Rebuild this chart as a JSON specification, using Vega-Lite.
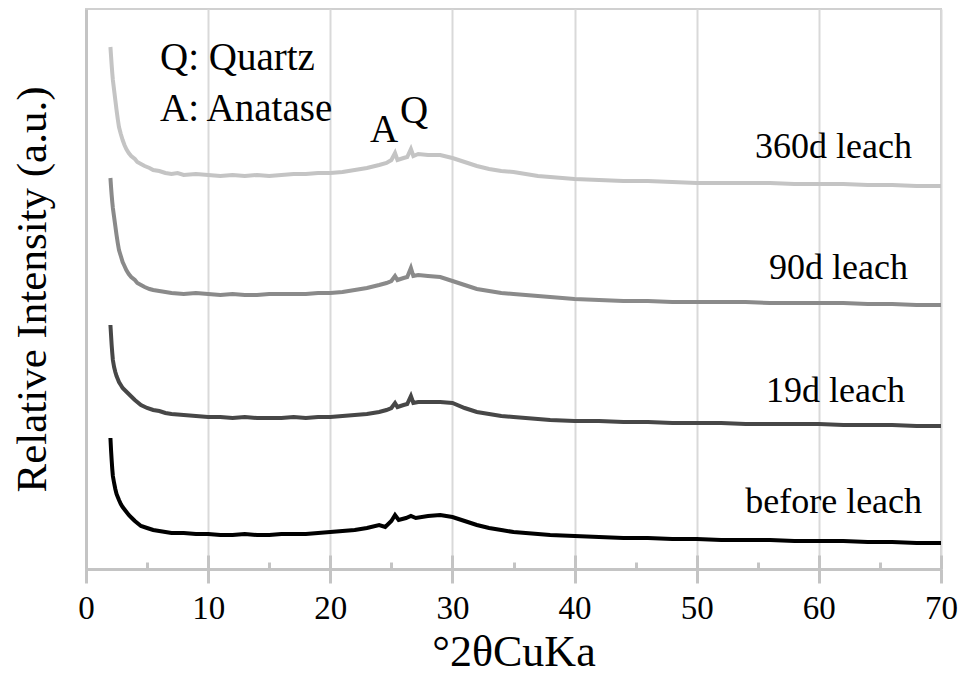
{
  "$schema": "https://vega.github.io/schema/vega-lite/v6.json",
  "autosize": {"type": "none"},
  "width": 855,
  "height": 560,
  "padding": {"left": 86, "top": 9, "right": 23, "bottom": 118},
  "background": "white",
  "config": {
    "view": {"stroke": "#d0d0d0", "strokeWidth": 2},
    "font": "Liberation Serif"
  },
  "datasets": {
    "xrd": [
      {"sample": "360d leach", "angle": 2.0, "intensity": 522},
      {"sample": "360d leach", "angle": 2.05, "intensity": 513},
      {"sample": "360d leach", "angle": 2.1, "intensity": 504},
      {"sample": "360d leach", "angle": 2.15, "intensity": 496},
      {"sample": "360d leach", "angle": 2.2, "intensity": 489},
      {"sample": "360d leach", "angle": 2.3, "intensity": 479},
      {"sample": "360d leach", "angle": 2.4, "intensity": 469},
      {"sample": "360d leach", "angle": 2.5, "intensity": 459},
      {"sample": "360d leach", "angle": 2.6, "intensity": 450},
      {"sample": "360d leach", "angle": 2.7, "intensity": 442},
      {"sample": "360d leach", "angle": 2.85, "intensity": 435},
      {"sample": "360d leach", "angle": 3.0, "intensity": 429},
      {"sample": "360d leach", "angle": 3.15, "intensity": 424},
      {"sample": "360d leach", "angle": 3.3, "intensity": 420},
      {"sample": "360d leach", "angle": 3.5, "intensity": 416},
      {"sample": "360d leach", "angle": 3.7, "intensity": 413},
      {"sample": "360d leach", "angle": 4.0, "intensity": 410},
      {"sample": "360d leach", "angle": 4.2, "intensity": 407},
      {"sample": "360d leach", "angle": 4.5, "intensity": 405},
      {"sample": "360d leach", "angle": 4.8, "intensity": 403},
      {"sample": "360d leach", "angle": 5.2, "intensity": 401},
      {"sample": "360d leach", "angle": 5.5, "intensity": 399},
      {"sample": "360d leach", "angle": 6.0, "intensity": 398},
      {"sample": "360d leach", "angle": 6.5, "intensity": 396},
      {"sample": "360d leach", "angle": 7.0, "intensity": 395},
      {"sample": "360d leach", "angle": 7.5, "intensity": 396},
      {"sample": "360d leach", "angle": 8.0, "intensity": 394},
      {"sample": "360d leach", "angle": 9.0, "intensity": 395},
      {"sample": "360d leach", "angle": 10.0, "intensity": 394},
      {"sample": "360d leach", "angle": 11.0, "intensity": 393},
      {"sample": "360d leach", "angle": 12.0, "intensity": 394},
      {"sample": "360d leach", "angle": 13.0, "intensity": 393},
      {"sample": "360d leach", "angle": 14.0, "intensity": 394},
      {"sample": "360d leach", "angle": 15.0, "intensity": 393},
      {"sample": "360d leach", "angle": 16.0, "intensity": 394},
      {"sample": "360d leach", "angle": 17.0, "intensity": 395},
      {"sample": "360d leach", "angle": 18.0, "intensity": 395},
      {"sample": "360d leach", "angle": 19.0, "intensity": 396},
      {"sample": "360d leach", "angle": 20.0, "intensity": 396},
      {"sample": "360d leach", "angle": 21.0, "intensity": 397},
      {"sample": "360d leach", "angle": 22.0, "intensity": 399},
      {"sample": "360d leach", "angle": 23.0, "intensity": 401},
      {"sample": "360d leach", "angle": 24.0, "intensity": 404},
      {"sample": "360d leach", "angle": 24.6, "intensity": 406},
      {"sample": "360d leach", "angle": 25.0, "intensity": 409},
      {"sample": "360d leach", "angle": 25.3, "intensity": 416},
      {"sample": "360d leach", "angle": 25.5, "intensity": 409},
      {"sample": "360d leach", "angle": 26.0, "intensity": 411},
      {"sample": "360d leach", "angle": 26.3, "intensity": 412},
      {"sample": "360d leach", "angle": 26.6, "intensity": 420},
      {"sample": "360d leach", "angle": 26.8, "intensity": 413},
      {"sample": "360d leach", "angle": 27.2, "intensity": 415},
      {"sample": "360d leach", "angle": 28.0, "intensity": 414},
      {"sample": "360d leach", "angle": 29.0, "intensity": 414},
      {"sample": "360d leach", "angle": 30.0, "intensity": 411},
      {"sample": "360d leach", "angle": 31.0, "intensity": 407},
      {"sample": "360d leach", "angle": 32.0, "intensity": 403},
      {"sample": "360d leach", "angle": 33.0, "intensity": 400},
      {"sample": "360d leach", "angle": 34.0, "intensity": 398},
      {"sample": "360d leach", "angle": 35.0, "intensity": 397},
      {"sample": "360d leach", "angle": 36.0, "intensity": 395},
      {"sample": "360d leach", "angle": 37.0, "intensity": 393},
      {"sample": "360d leach", "angle": 38.0, "intensity": 392},
      {"sample": "360d leach", "angle": 39.0, "intensity": 391},
      {"sample": "360d leach", "angle": 40.0, "intensity": 390},
      {"sample": "360d leach", "angle": 42.0, "intensity": 389},
      {"sample": "360d leach", "angle": 44.0, "intensity": 388},
      {"sample": "360d leach", "angle": 46.0, "intensity": 388},
      {"sample": "360d leach", "angle": 48.0, "intensity": 387},
      {"sample": "360d leach", "angle": 50.0, "intensity": 386},
      {"sample": "360d leach", "angle": 52.0, "intensity": 386},
      {"sample": "360d leach", "angle": 54.0, "intensity": 386},
      {"sample": "360d leach", "angle": 56.0, "intensity": 386},
      {"sample": "360d leach", "angle": 58.0, "intensity": 385},
      {"sample": "360d leach", "angle": 60.0, "intensity": 385},
      {"sample": "360d leach", "angle": 62.0, "intensity": 385},
      {"sample": "360d leach", "angle": 64.0, "intensity": 384},
      {"sample": "360d leach", "angle": 66.0, "intensity": 384},
      {"sample": "360d leach", "angle": 68.0, "intensity": 383},
      {"sample": "360d leach", "angle": 70.0, "intensity": 383},

      {"sample": "90d leach", "angle": 2.0, "intensity": 391},
      {"sample": "90d leach", "angle": 2.05, "intensity": 382},
      {"sample": "90d leach", "angle": 2.1, "intensity": 374},
      {"sample": "90d leach", "angle": 2.15, "intensity": 367},
      {"sample": "90d leach", "angle": 2.2, "intensity": 361},
      {"sample": "90d leach", "angle": 2.3, "intensity": 352},
      {"sample": "90d leach", "angle": 2.4, "intensity": 343},
      {"sample": "90d leach", "angle": 2.5, "intensity": 334},
      {"sample": "90d leach", "angle": 2.6, "intensity": 326},
      {"sample": "90d leach", "angle": 2.7, "intensity": 319},
      {"sample": "90d leach", "angle": 2.85, "intensity": 313},
      {"sample": "90d leach", "angle": 3.0, "intensity": 307},
      {"sample": "90d leach", "angle": 3.15, "intensity": 303},
      {"sample": "90d leach", "angle": 3.3, "intensity": 299},
      {"sample": "90d leach", "angle": 3.5, "intensity": 295},
      {"sample": "90d leach", "angle": 3.7, "intensity": 292},
      {"sample": "90d leach", "angle": 4.0, "intensity": 289},
      {"sample": "90d leach", "angle": 4.2, "intensity": 286},
      {"sample": "90d leach", "angle": 4.5, "intensity": 284},
      {"sample": "90d leach", "angle": 4.8, "intensity": 282},
      {"sample": "90d leach", "angle": 5.2, "intensity": 280},
      {"sample": "90d leach", "angle": 5.5, "intensity": 279},
      {"sample": "90d leach", "angle": 6.0, "intensity": 278},
      {"sample": "90d leach", "angle": 6.5, "intensity": 277},
      {"sample": "90d leach", "angle": 7.0, "intensity": 276},
      {"sample": "90d leach", "angle": 8.0, "intensity": 275},
      {"sample": "90d leach", "angle": 9.0, "intensity": 276},
      {"sample": "90d leach", "angle": 10.0, "intensity": 275},
      {"sample": "90d leach", "angle": 11.0, "intensity": 274},
      {"sample": "90d leach", "angle": 12.0, "intensity": 275},
      {"sample": "90d leach", "angle": 13.0, "intensity": 274},
      {"sample": "90d leach", "angle": 14.0, "intensity": 274},
      {"sample": "90d leach", "angle": 15.0, "intensity": 275},
      {"sample": "90d leach", "angle": 16.0, "intensity": 275},
      {"sample": "90d leach", "angle": 17.0, "intensity": 275},
      {"sample": "90d leach", "angle": 18.0, "intensity": 275},
      {"sample": "90d leach", "angle": 19.0, "intensity": 276},
      {"sample": "90d leach", "angle": 20.0, "intensity": 276},
      {"sample": "90d leach", "angle": 21.0, "intensity": 277},
      {"sample": "90d leach", "angle": 22.0, "intensity": 279},
      {"sample": "90d leach", "angle": 23.0, "intensity": 281},
      {"sample": "90d leach", "angle": 24.0, "intensity": 284},
      {"sample": "90d leach", "angle": 24.6, "intensity": 286},
      {"sample": "90d leach", "angle": 25.0, "intensity": 288},
      {"sample": "90d leach", "angle": 25.3, "intensity": 293},
      {"sample": "90d leach", "angle": 25.5, "intensity": 289},
      {"sample": "90d leach", "angle": 26.0, "intensity": 291},
      {"sample": "90d leach", "angle": 26.3, "intensity": 292},
      {"sample": "90d leach", "angle": 26.6, "intensity": 301},
      {"sample": "90d leach", "angle": 26.8, "intensity": 293},
      {"sample": "90d leach", "angle": 27.2, "intensity": 294},
      {"sample": "90d leach", "angle": 28.0, "intensity": 293},
      {"sample": "90d leach", "angle": 29.0, "intensity": 292},
      {"sample": "90d leach", "angle": 30.0, "intensity": 288},
      {"sample": "90d leach", "angle": 31.0, "intensity": 284},
      {"sample": "90d leach", "angle": 32.0, "intensity": 280},
      {"sample": "90d leach", "angle": 33.0, "intensity": 278},
      {"sample": "90d leach", "angle": 34.0, "intensity": 276},
      {"sample": "90d leach", "angle": 35.0, "intensity": 275},
      {"sample": "90d leach", "angle": 36.0, "intensity": 274},
      {"sample": "90d leach", "angle": 38.0, "intensity": 272},
      {"sample": "90d leach", "angle": 40.0, "intensity": 270},
      {"sample": "90d leach", "angle": 42.0, "intensity": 269},
      {"sample": "90d leach", "angle": 44.0, "intensity": 268},
      {"sample": "90d leach", "angle": 46.0, "intensity": 268},
      {"sample": "90d leach", "angle": 48.0, "intensity": 267},
      {"sample": "90d leach", "angle": 50.0, "intensity": 267},
      {"sample": "90d leach", "angle": 52.0, "intensity": 267},
      {"sample": "90d leach", "angle": 54.0, "intensity": 267},
      {"sample": "90d leach", "angle": 56.0, "intensity": 266},
      {"sample": "90d leach", "angle": 58.0, "intensity": 266},
      {"sample": "90d leach", "angle": 60.0, "intensity": 266},
      {"sample": "90d leach", "angle": 62.0, "intensity": 266},
      {"sample": "90d leach", "angle": 64.0, "intensity": 265},
      {"sample": "90d leach", "angle": 66.0, "intensity": 265},
      {"sample": "90d leach", "angle": 68.0, "intensity": 264},
      {"sample": "90d leach", "angle": 70.0, "intensity": 264},

      {"sample": "19d leach", "angle": 2.0, "intensity": 244},
      {"sample": "19d leach", "angle": 2.05, "intensity": 234},
      {"sample": "19d leach", "angle": 2.1, "intensity": 224},
      {"sample": "19d leach", "angle": 2.15, "intensity": 216},
      {"sample": "19d leach", "angle": 2.2, "intensity": 209},
      {"sample": "19d leach", "angle": 2.3, "intensity": 202},
      {"sample": "19d leach", "angle": 2.4, "intensity": 197},
      {"sample": "19d leach", "angle": 2.5, "intensity": 193},
      {"sample": "19d leach", "angle": 2.6, "intensity": 190},
      {"sample": "19d leach", "angle": 2.7, "intensity": 187},
      {"sample": "19d leach", "angle": 2.85, "intensity": 184},
      {"sample": "19d leach", "angle": 3.0, "intensity": 181},
      {"sample": "19d leach", "angle": 3.25, "intensity": 178},
      {"sample": "19d leach", "angle": 3.5, "intensity": 175},
      {"sample": "19d leach", "angle": 3.75, "intensity": 172},
      {"sample": "19d leach", "angle": 4.0, "intensity": 169},
      {"sample": "19d leach", "angle": 4.5, "intensity": 164},
      {"sample": "19d leach", "angle": 5.0, "intensity": 161},
      {"sample": "19d leach", "angle": 5.5, "intensity": 159},
      {"sample": "19d leach", "angle": 6.0, "intensity": 158},
      {"sample": "19d leach", "angle": 6.5, "intensity": 156},
      {"sample": "19d leach", "angle": 7.0, "intensity": 155},
      {"sample": "19d leach", "angle": 8.0, "intensity": 154},
      {"sample": "19d leach", "angle": 9.0, "intensity": 153},
      {"sample": "19d leach", "angle": 10.0, "intensity": 152},
      {"sample": "19d leach", "angle": 11.0, "intensity": 152},
      {"sample": "19d leach", "angle": 12.0, "intensity": 151},
      {"sample": "19d leach", "angle": 13.0, "intensity": 152},
      {"sample": "19d leach", "angle": 14.0, "intensity": 151},
      {"sample": "19d leach", "angle": 15.0, "intensity": 151},
      {"sample": "19d leach", "angle": 16.0, "intensity": 151},
      {"sample": "19d leach", "angle": 17.0, "intensity": 152},
      {"sample": "19d leach", "angle": 18.0, "intensity": 151},
      {"sample": "19d leach", "angle": 19.0, "intensity": 152},
      {"sample": "19d leach", "angle": 20.0, "intensity": 152},
      {"sample": "19d leach", "angle": 21.0, "intensity": 153},
      {"sample": "19d leach", "angle": 22.0, "intensity": 154},
      {"sample": "19d leach", "angle": 23.0, "intensity": 155},
      {"sample": "19d leach", "angle": 24.0, "intensity": 157},
      {"sample": "19d leach", "angle": 24.6, "intensity": 159},
      {"sample": "19d leach", "angle": 25.0, "intensity": 161},
      {"sample": "19d leach", "angle": 25.3, "intensity": 166},
      {"sample": "19d leach", "angle": 25.5, "intensity": 162},
      {"sample": "19d leach", "angle": 26.0, "intensity": 164},
      {"sample": "19d leach", "angle": 26.3, "intensity": 165},
      {"sample": "19d leach", "angle": 26.6, "intensity": 173},
      {"sample": "19d leach", "angle": 26.8, "intensity": 166},
      {"sample": "19d leach", "angle": 27.2, "intensity": 167},
      {"sample": "19d leach", "angle": 28.0, "intensity": 167},
      {"sample": "19d leach", "angle": 29.0, "intensity": 167},
      {"sample": "19d leach", "angle": 30.0, "intensity": 166},
      {"sample": "19d leach", "angle": 31.0, "intensity": 161},
      {"sample": "19d leach", "angle": 32.0, "intensity": 157},
      {"sample": "19d leach", "angle": 33.0, "intensity": 155},
      {"sample": "19d leach", "angle": 34.0, "intensity": 153},
      {"sample": "19d leach", "angle": 35.0, "intensity": 152},
      {"sample": "19d leach", "angle": 36.0, "intensity": 151},
      {"sample": "19d leach", "angle": 38.0, "intensity": 149},
      {"sample": "19d leach", "angle": 40.0, "intensity": 148},
      {"sample": "19d leach", "angle": 42.0, "intensity": 148},
      {"sample": "19d leach", "angle": 44.0, "intensity": 147},
      {"sample": "19d leach", "angle": 46.0, "intensity": 147},
      {"sample": "19d leach", "angle": 48.0, "intensity": 146},
      {"sample": "19d leach", "angle": 50.0, "intensity": 146},
      {"sample": "19d leach", "angle": 52.0, "intensity": 146},
      {"sample": "19d leach", "angle": 54.0, "intensity": 145},
      {"sample": "19d leach", "angle": 56.0, "intensity": 145},
      {"sample": "19d leach", "angle": 58.0, "intensity": 145},
      {"sample": "19d leach", "angle": 60.0, "intensity": 145},
      {"sample": "19d leach", "angle": 62.0, "intensity": 144},
      {"sample": "19d leach", "angle": 64.0, "intensity": 144},
      {"sample": "19d leach", "angle": 66.0, "intensity": 144},
      {"sample": "19d leach", "angle": 68.0, "intensity": 143},
      {"sample": "19d leach", "angle": 70.0, "intensity": 143},

      {"sample": "before leach", "angle": 2.0, "intensity": 131},
      {"sample": "before leach", "angle": 2.05, "intensity": 119},
      {"sample": "before leach", "angle": 2.1, "intensity": 109},
      {"sample": "before leach", "angle": 2.15, "intensity": 100},
      {"sample": "before leach", "angle": 2.2, "intensity": 93},
      {"sample": "before leach", "angle": 2.3, "intensity": 86},
      {"sample": "before leach", "angle": 2.4, "intensity": 80},
      {"sample": "before leach", "angle": 2.5, "intensity": 75},
      {"sample": "before leach", "angle": 2.6, "intensity": 72},
      {"sample": "before leach", "angle": 2.7, "intensity": 69},
      {"sample": "before leach", "angle": 2.85, "intensity": 65},
      {"sample": "before leach", "angle": 3.0, "intensity": 62},
      {"sample": "before leach", "angle": 3.25, "intensity": 58},
      {"sample": "before leach", "angle": 3.5, "intensity": 54},
      {"sample": "before leach", "angle": 3.75, "intensity": 51},
      {"sample": "before leach", "angle": 4.0, "intensity": 48},
      {"sample": "before leach", "angle": 4.5, "intensity": 43},
      {"sample": "before leach", "angle": 5.0, "intensity": 41},
      {"sample": "before leach", "angle": 5.5, "intensity": 39},
      {"sample": "before leach", "angle": 6.0, "intensity": 38},
      {"sample": "before leach", "angle": 6.5, "intensity": 37},
      {"sample": "before leach", "angle": 7.0, "intensity": 36},
      {"sample": "before leach", "angle": 8.0, "intensity": 36},
      {"sample": "before leach", "angle": 9.0, "intensity": 35},
      {"sample": "before leach", "angle": 10.0, "intensity": 35},
      {"sample": "before leach", "angle": 11.0, "intensity": 34},
      {"sample": "before leach", "angle": 12.0, "intensity": 34},
      {"sample": "before leach", "angle": 13.0, "intensity": 35},
      {"sample": "before leach", "angle": 14.0, "intensity": 34},
      {"sample": "before leach", "angle": 15.0, "intensity": 34},
      {"sample": "before leach", "angle": 16.0, "intensity": 35},
      {"sample": "before leach", "angle": 17.0, "intensity": 35},
      {"sample": "before leach", "angle": 18.0, "intensity": 35},
      {"sample": "before leach", "angle": 19.0, "intensity": 36},
      {"sample": "before leach", "angle": 20.0, "intensity": 37},
      {"sample": "before leach", "angle": 21.0, "intensity": 38},
      {"sample": "before leach", "angle": 22.0, "intensity": 39},
      {"sample": "before leach", "angle": 23.0, "intensity": 41},
      {"sample": "before leach", "angle": 24.0, "intensity": 44},
      {"sample": "before leach", "angle": 24.5, "intensity": 42},
      {"sample": "before leach", "angle": 25.0, "intensity": 48},
      {"sample": "before leach", "angle": 25.3, "intensity": 54},
      {"sample": "before leach", "angle": 25.6, "intensity": 49},
      {"sample": "before leach", "angle": 26.2, "intensity": 51},
      {"sample": "before leach", "angle": 26.6, "intensity": 53},
      {"sample": "before leach", "angle": 27.0, "intensity": 51},
      {"sample": "before leach", "angle": 28.0, "intensity": 53},
      {"sample": "before leach", "angle": 29.0, "intensity": 54},
      {"sample": "before leach", "angle": 30.0, "intensity": 52},
      {"sample": "before leach", "angle": 31.0, "intensity": 48},
      {"sample": "before leach", "angle": 32.0, "intensity": 44},
      {"sample": "before leach", "angle": 33.0, "intensity": 41},
      {"sample": "before leach", "angle": 34.0, "intensity": 39},
      {"sample": "before leach", "angle": 35.0, "intensity": 37},
      {"sample": "before leach", "angle": 36.0, "intensity": 36},
      {"sample": "before leach", "angle": 38.0, "intensity": 34},
      {"sample": "before leach", "angle": 40.0, "intensity": 33},
      {"sample": "before leach", "angle": 42.0, "intensity": 32},
      {"sample": "before leach", "angle": 44.0, "intensity": 31},
      {"sample": "before leach", "angle": 46.0, "intensity": 31},
      {"sample": "before leach", "angle": 48.0, "intensity": 30},
      {"sample": "before leach", "angle": 50.0, "intensity": 30},
      {"sample": "before leach", "angle": 52.0, "intensity": 29},
      {"sample": "before leach", "angle": 54.0, "intensity": 29},
      {"sample": "before leach", "angle": 56.0, "intensity": 29},
      {"sample": "before leach", "angle": 58.0, "intensity": 28},
      {"sample": "before leach", "angle": 60.0, "intensity": 28},
      {"sample": "before leach", "angle": 62.0, "intensity": 28},
      {"sample": "before leach", "angle": 64.0, "intensity": 27},
      {"sample": "before leach", "angle": 66.0, "intensity": 27},
      {"sample": "before leach", "angle": 68.0, "intensity": 26},
      {"sample": "before leach", "angle": 70.0, "intensity": 26}
    ],
    "series_labels": [
      {"label": "360d leach", "angle": 67.63, "intensity": 411},
      {"label": "90d leach", "angle": 67.3, "intensity": 290},
      {"label": "19d leach", "angle": 67.05, "intensity": 167},
      {"label": "before leach", "angle": 68.45, "intensity": 56}
    ],
    "phase_labels": [
      {"label": "Q: Quartz", "angle": 6.06, "intensity": 499},
      {"label": "A: Anatase", "angle": 6.06, "intensity": 448},
      {"label": "A", "angle": 23.25, "intensity": 427},
      {"label": "Q", "angle": 25.7, "intensity": 446}
    ]
  },
  "layer": [
    {
      "data": {"name": "xrd"},
      "mark": {"type": "line", "strokeWidth": 4, "clip": true},
      "encoding": {
        "x": {
          "field": "angle",
          "type": "quantitative",
          "scale": {"domain": [0, 70], "nice": false, "zero": false},
          "axis": {
            "orient": "bottom",
            "values": [0, 10, 20, 30, 40, 50, 60, 70],
            "title": "°2θCuKa",
            "titleFont": "Liberation Serif",
            "titleFontSize": 44,
            "titleFontWeight": "normal",
            "titleColor": "black",
            "titlePadding": 5,
            "labelFont": "Liberation Serif",
            "labelFontSize": 33,
            "labelColor": "black",
            "labelPadding": 9,
            "labelFlush": false,
            "labelOverlap": false,
            "tickSize": 14,
            "tickWidth": 3,
            "tickColor": "#c4c4c4",
            "domainColor": "#c4c4c4",
            "domainWidth": 3,
            "grid": true,
            "gridColor": "#d9d9d9",
            "gridWidth": 2
          }
        },
        "y": {
          "field": "intensity",
          "type": "quantitative",
          "scale": {"domain": [0, 560], "nice": false},
          "axis": {
            "title": "Relative Intensity (a.u.)",
            "titleFont": "Liberation Serif",
            "titleFontSize": 43,
            "titleFontWeight": "normal",
            "titleColor": "black",
            "titlePadding": 32,
            "labels": false,
            "ticks": false,
            "grid": false,
            "domainColor": "#c4c4c4",
            "domainWidth": 3
          }
        },
        "color": {
          "field": "sample",
          "type": "nominal",
          "scale": {
            "domain": ["before leach", "19d leach", "90d leach", "360d leach"],
            "range": ["#000000", "#474747", "#8a8a8a", "#c4c4c4"]
          },
          "legend": null
        }
      }
    },
    {
      "data": {"name": "series_labels"},
      "mark": {"type": "text", "align": "right", "baseline": "alphabetic", "font": "Liberation Serif", "fontSize": 36, "color": "black"},
      "encoding": {
        "x": {
          "field": "angle",
          "type": "quantitative",
          "axis": {
            "orient": "bottom",
            "values": [0, 10, 20, 30, 40, 50, 60, 70],
            "title": null,
            "labels": false,
            "domain": false,
            "grid": false,
            "tickSize": -14,
            "tickWidth": 3,
            "tickColor": "#c4c4c4"
          }
        },
        "y": {"field": "intensity", "type": "quantitative"},
        "text": {"field": "label"}
      }
    },
    {
      "data": {"name": "phase_labels"},
      "mark": {"type": "text", "align": "left", "baseline": "alphabetic", "font": "Liberation Serif", "fontSize": 39, "color": "black"},
      "encoding": {
        "x": {
          "field": "angle",
          "type": "quantitative",
          "axis": {
            "orient": "bottom",
            "values": [5, 15, 25, 35, 45, 55, 65],
            "title": null,
            "labels": false,
            "domain": false,
            "grid": false,
            "tickSize": -7,
            "tickWidth": 3,
            "tickColor": "#c4c4c4"
          }
        },
        "y": {"field": "intensity", "type": "quantitative"},
        "text": {"field": "label"}
      }
    }
  ],
  "resolve": {"axis": {"x": "independent"}}
}
